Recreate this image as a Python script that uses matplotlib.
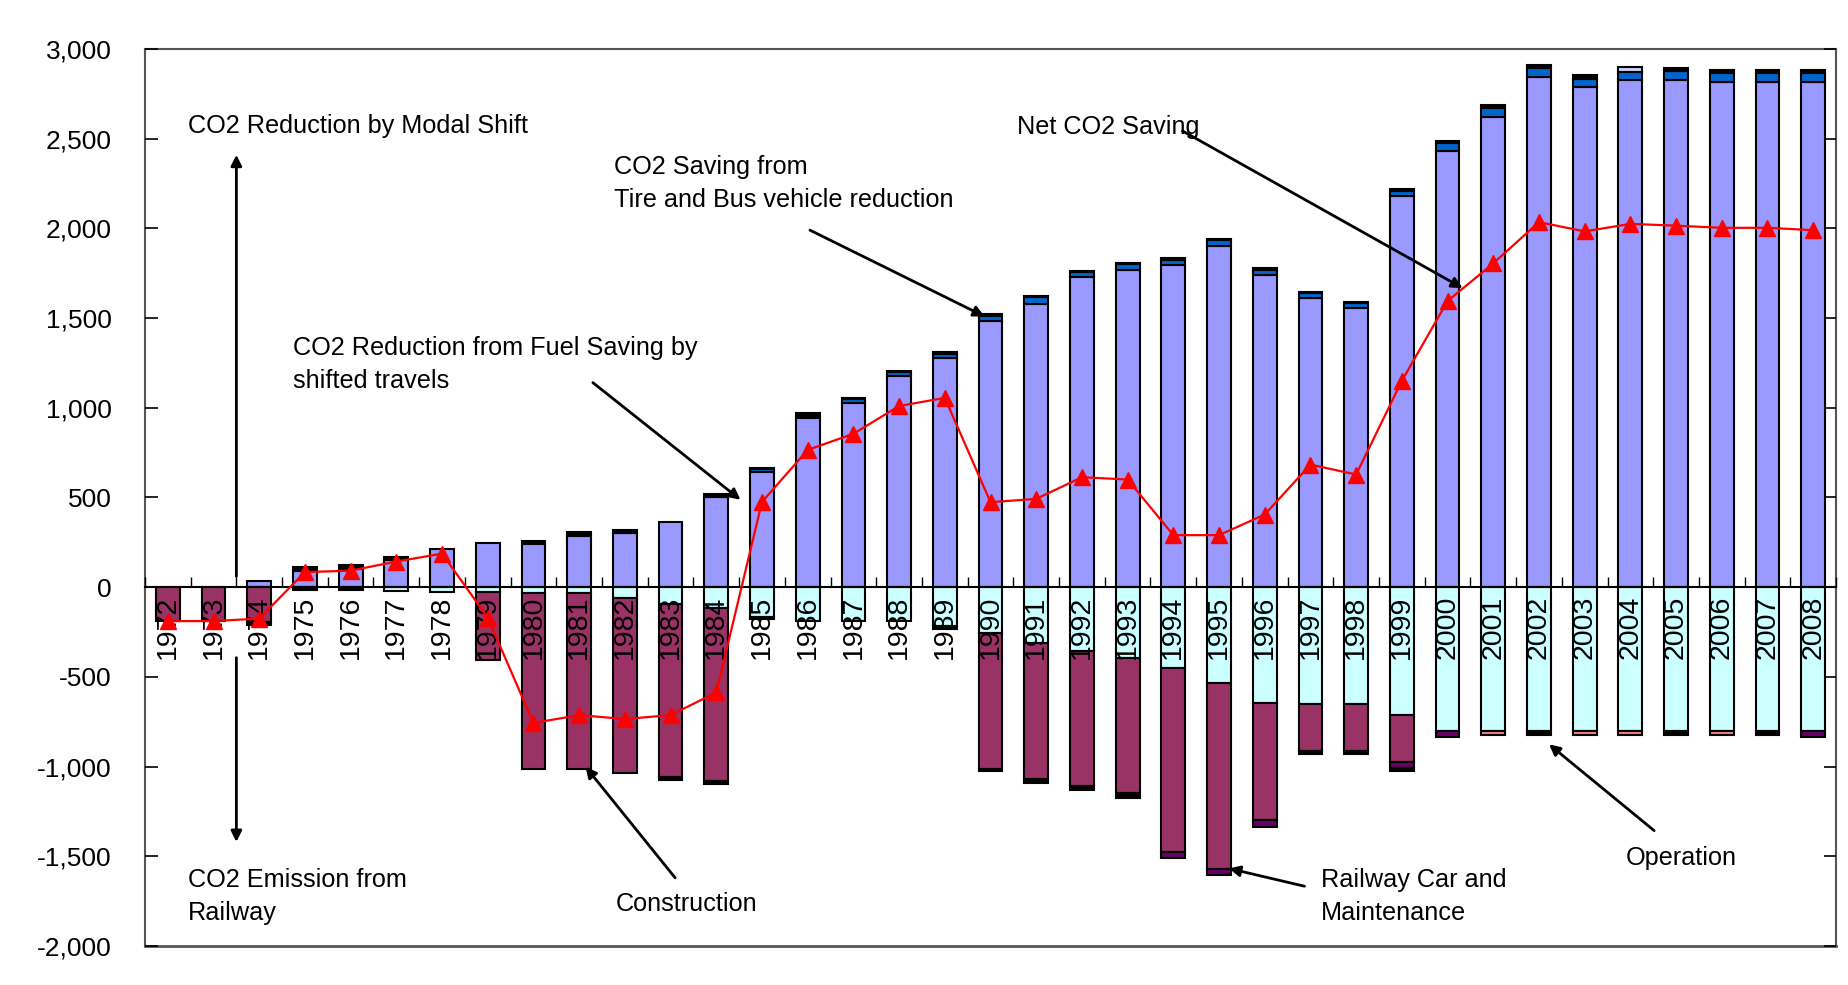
import numpy as np
import matplotlib.pyplot as plt
from matplotlib.ticker import FuncFormatter

years = list(range(1972, 2009))

# reduction side (stacked upward from zero)
fuel_saving = [0, 0, 36, 92, 104, 150, 212, 249, 242, 288, 302, 365, 500, 640, 942, 1027,
               1175, 1280, 1484, 1580, 1730, 1770, 1793, 1900, 1742, 1612, 1557, 2180,
               2432, 2622, 2841, 2786, 2828, 2829, 2818, 2818, 2818]
vehicle_reduction = [0, 0, 0, 0, 0, 0, 0, 0, 0, 0, 0, 0, 0, 20, 0, 20, 22, 22, 28, 35, 25,
                     30, 32, 33, 28, 27, 25, 30, 42, 48, 52, 49, 42, 50, 50, 50, 50]
other_saving = [0, 0, 0, 18, 20, 17, 0, 0, 17, 17, 17, 0, 18, 7, 28, 9, 8, 7, 8, 9, 8, 9,
                8, 9, 9, 8, 8, 11, 12, 15, 19, 18, 0, 15, 16, 16, 16]
extra_saving = [0] * 32 + [30] + [0] * 4

# emission side (stacked downward from zero)
operation = [0, 0, 0, 0, 0, 22, 25, 26, 35, 35, 59, 93, 118, 165, 189, 189, 189, 216, 254,
             309, 356, 393, 452, 535, 648, 652, 652, 711, 800, 804, 800, 804, 804, 800, 804,
             800, 800]
construction = [189, 189, 195, 0, 0, 0, 0, 381, 978, 978, 976, 963, 960, 0, 0, 0, 0, 0, 759,
                759, 750, 757, 1024, 1037, 650, 263, 263, 261, 0, 0, 0, 0, 0, 0, 0, 0, 0]
railway_car = [0] * 22 + [33, 33, 37, 0, 0, 35, 37, 0, 0, 0, 0, 0, 0, 0, 37]
other_emission = [0] * 29 + [18, 0, 18, 18, 0, 18, 0, 0]
misc_emission = [0, 0, 16, 15, 15, 0, 0, 0, 0, 0, 0, 18, 18, 15, 0, 0, 0, 19, 13, 24, 24, 26,
                 0, 0, 0, 15, 15, 18, 0, 0, 26, 0, 0, 26, 0, 26, 0]

net_saving = [-189, -189, -175, 84, 92, 143, 187, -170, -757, -713, -735, -713, -587, 475,
              765, 855, 1010, 1055, 474, 492, 613, 600, 290, 290, 405, 683, 628, 1150, 1595,
              1805, 2035, 1983, 2025, 2015, 2003, 2003, 1990]

plt.rcParams['font.family'] = ['Liberation Sans', 'DejaVu Sans']

fig = plt.figure(figsize=(18.49, 9.85), dpi=100)
ax = fig.add_axes([0.0784, 0.0396, 0.9146, 0.9107])
ax.set_axisbelow(False)

x = np.arange(len(years))
width = 0.52


def stack(series, colors, sign):
    base = np.zeros(len(years))
    for vals, col in zip(series, colors):
        vals = np.array(vals, dtype=float)
        keep = vals > 0
        ax.bar(x[keep], sign * vals[keep], width, bottom=sign * base[keep],
               color=col, edgecolor='black', linewidth=1.5, zorder=1)
        base += vals


stack([fuel_saving, vehicle_reduction, other_saving, extra_saving],
      ['#9999FF', '#0066CC', '#000000', '#CCCCFF'], 1)
stack([operation, construction, railway_car, other_emission, misc_emission],
      ['#CCFFFF', '#993366', '#660066', '#FF8080', '#000000'], -1)

ax.plot(x, net_saving, color='red', lw=1.6, marker='^', markersize=11, zorder=4)

ax.set_xlim(-0.5, len(years) - 0.5)
ax.set_ylim(-2000, 3000)
ax.set_yticks(np.arange(-2000, 3001, 500))
ax.yaxis.set_major_formatter(FuncFormatter(lambda v, p: f'{int(v):,}'))
ax.tick_params(axis='y', which='both', direction='in', length=9, width=1.2,
               right=True, labelsize=19, pad=24)

# category axis sits on the zero line
for s in ax.spines.values():
    s.set_color('#555555')
    s.set_linewidth(1.5)
ax.spines['bottom'].set_position(('data', 0))
ax.spines['bottom'].set_color('black')
ax.plot([0, 1], [0, 0], transform=ax.transAxes, color='#555555', lw=2, clip_on=False)

ax.set_xticks(np.arange(-0.5, len(years), 1))
ax.set_xticklabels([])
ax.set_xticks(x, minor=True)
ax.set_xticklabels([str(y) for y in years], minor=True, rotation=90, fontsize=20.5)
ax.tick_params(axis='x', which='major', direction='in', length=7, width=1)
ax.tick_params(axis='x', which='minor', length=0, pad=6)

txt = dict(fontsize=18.2, ha='left', va='center', linespacing=1.5)
arrow = dict(arrowstyle='-|>', color='black', lw=2, mutation_scale=16,
             shrinkA=0, shrinkB=0)

ax.text(0.44, 2570, 'CO2 Reduction by Modal Shift', **txt)
ax.annotate('', xy=(1.5, 2410), xytext=(1.5, 60), arrowprops=arrow)
ax.text(0.44, -1723, 'CO2 Emission from\nRailway', **txt)
ax.annotate('', xy=(1.5, -1420), xytext=(1.5, -393), arrowprops=arrow)

ax.text(2.74, 1242, 'CO2 Reduction from Fuel Saving by\nshifted travels', **txt)
ax.annotate('', xy=(12.53, 487), xytext=(9.3, 1140), arrowprops=arrow)

ax.text(9.76, 2250, 'CO2 Saving from\nTire and Bus vehicle reduction', **txt)
ax.annotate('', xy=(17.87, 1509), xytext=(14.05, 1990), arrowprops=arrow)

ax.text(18.57, 2563, 'Net CO2 Saving', **txt)
ax.annotate('', xy=(28.33, 1667), xytext=(22.2, 2543), arrowprops=arrow)

ax.text(9.81, -1765, 'Construction', **txt)
ax.annotate('', xy=(9.14, -1001), xytext=(11.1, -1620), arrowprops=arrow)

ax.text(25.23, -1723, 'Railway Car and\nMaintenance', **txt)
ax.annotate('', xy=(23.22, -1568), xytext=(24.87, -1667), arrowprops=arrow)

ax.text(31.9, -1508, 'Operation', **txt)
ax.annotate('', xy=(30.22, -876), xytext=(32.52, -1357), arrowprops=arrow)

fig.savefig('out.png', dpi=100)
